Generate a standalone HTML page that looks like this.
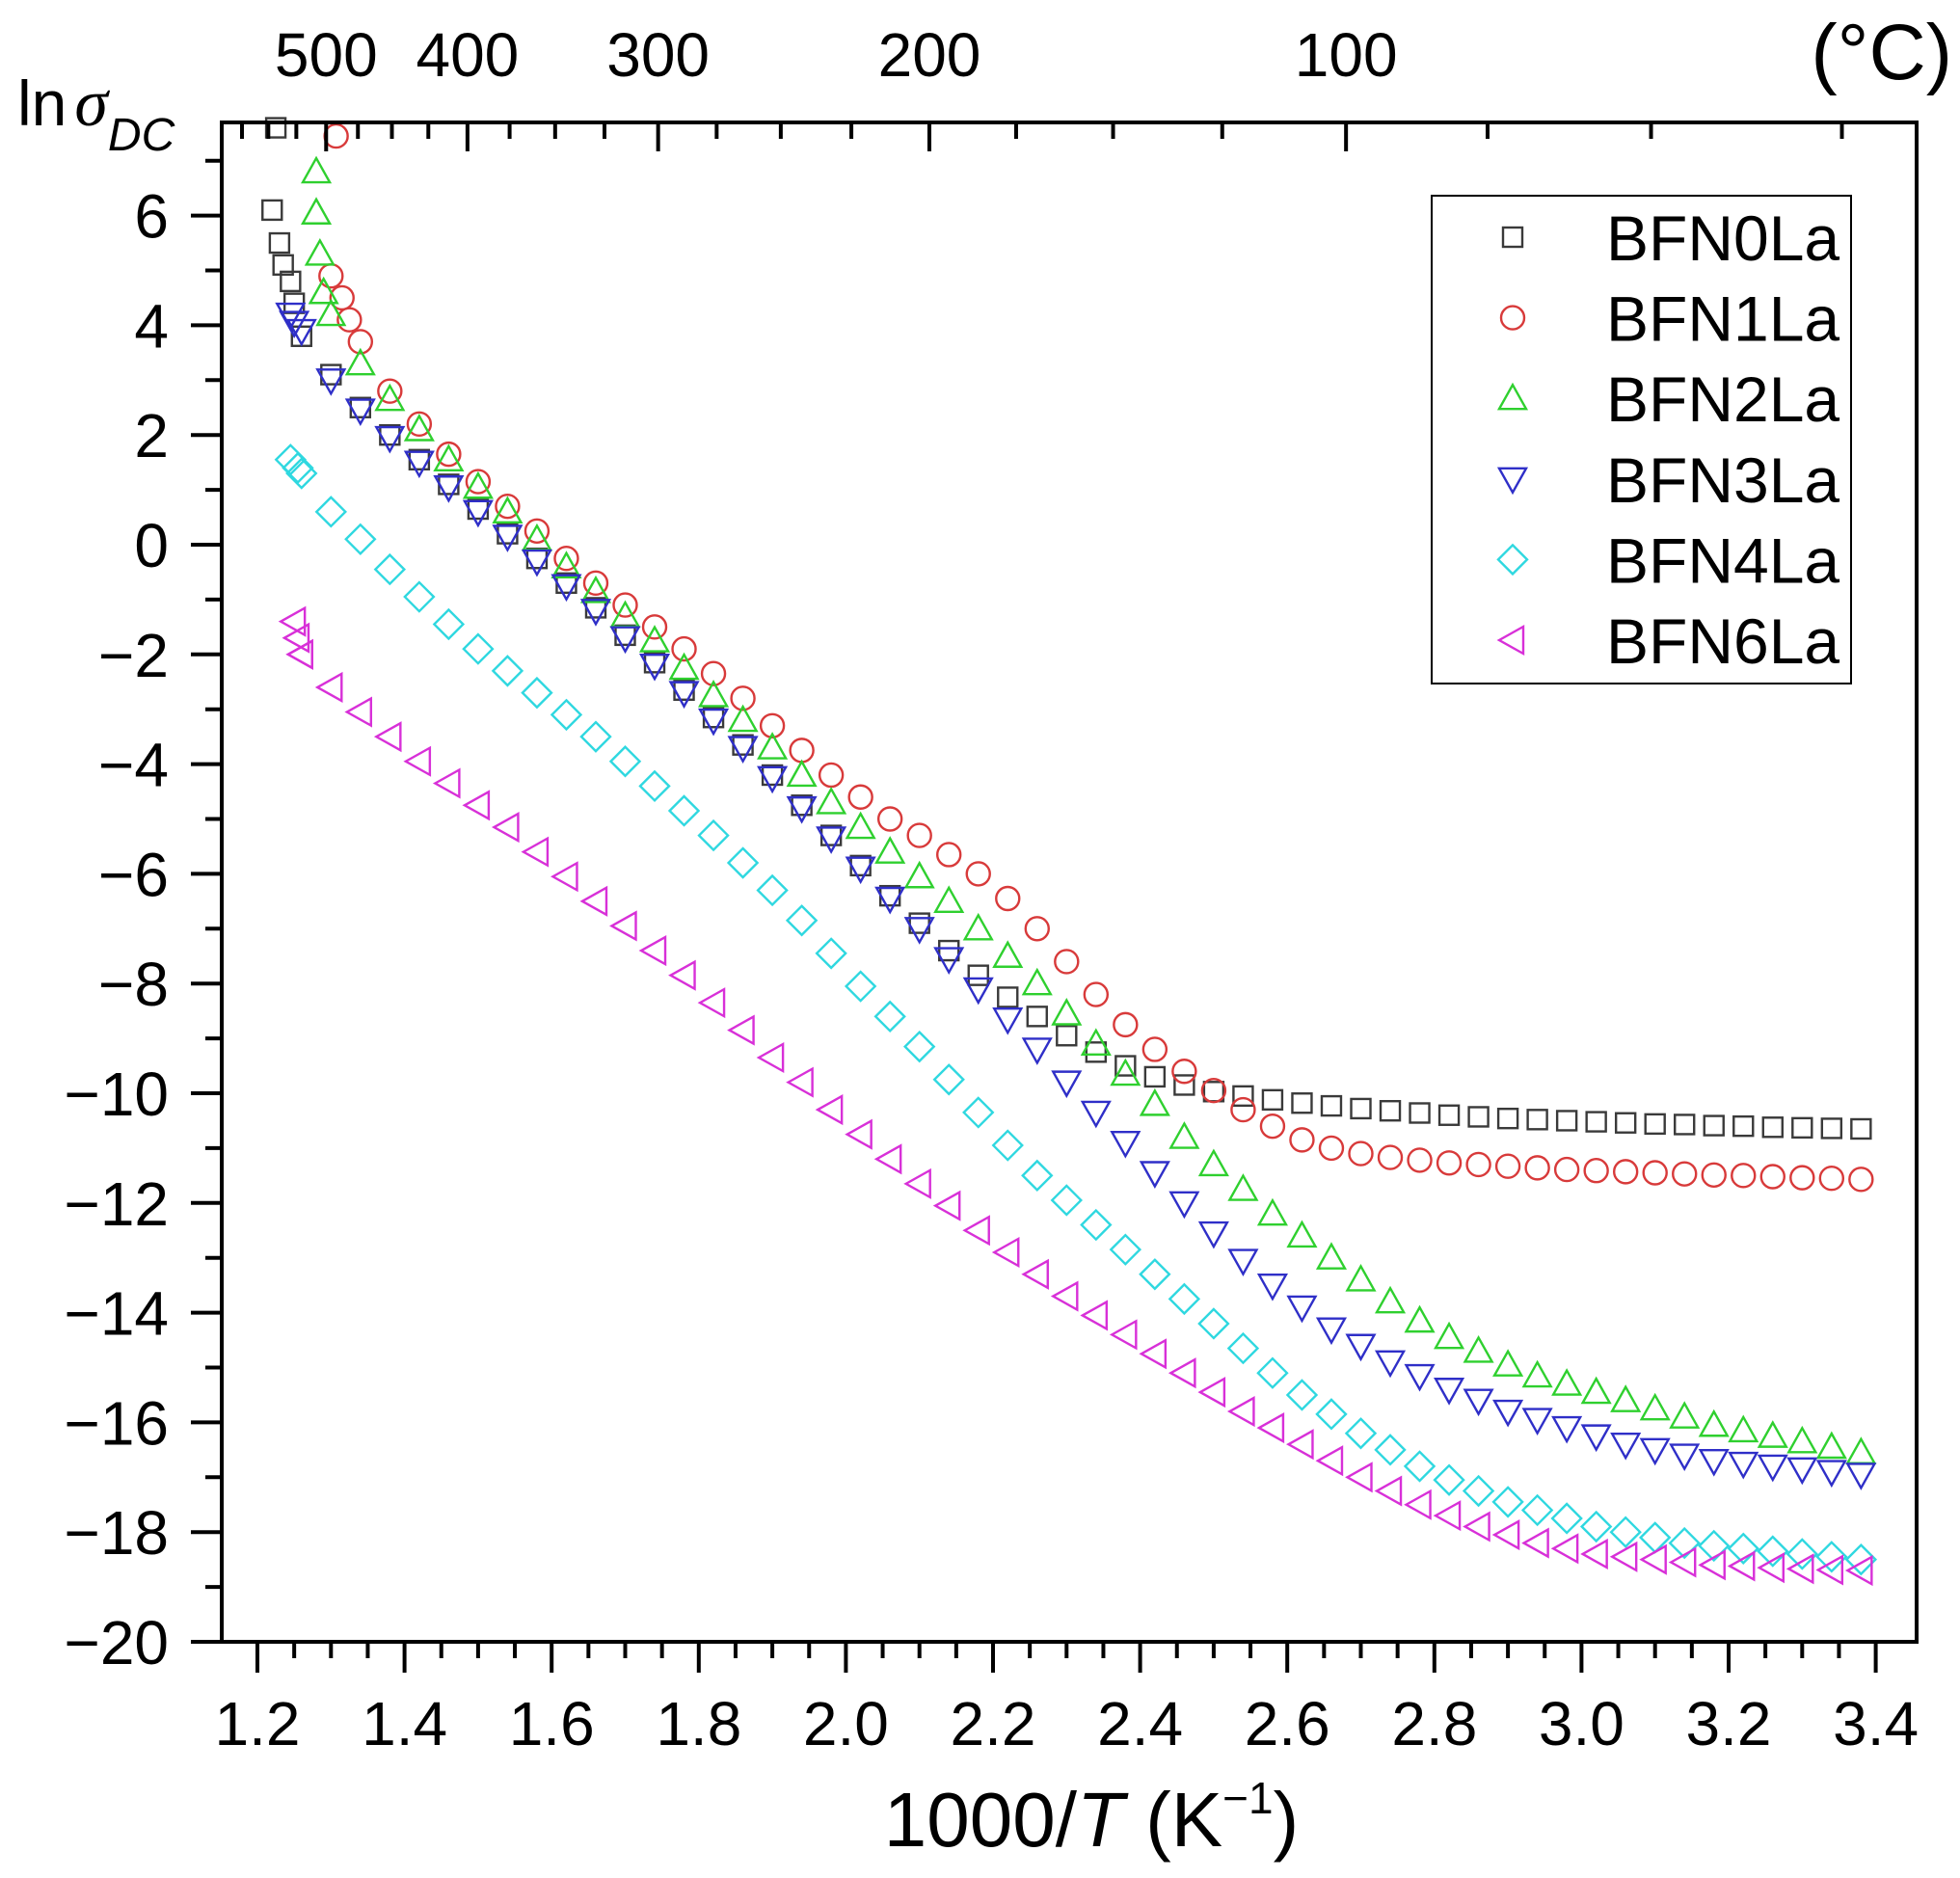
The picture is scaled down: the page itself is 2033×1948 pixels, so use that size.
<!DOCTYPE html>
<html><head><meta charset="utf-8"><style>
html,body{margin:0;padding:0;background:#fff}
svg{display:block}
text{font-family:"Liberation Sans",Arial,sans-serif;fill:#000}
</style></head><body>
<svg id="chart" width="2033" height="1948" viewBox="0 0 2033 1948" xmlns="http://www.w3.org/2000/svg">
<g id="marks"></g>
<g id="axes"></g>
<text x="18" y="130" font-size="66">ln<tspan font-family="Liberation Serif" font-style="italic" font-size="70" dx="8">σ</tspan><tspan font-style="italic" font-size="48" dy="26">DC</tspan></text>
<text x="1132" y="1915" font-size="80" text-anchor="middle">1000/<tspan font-style="italic">T</tspan> (K<tspan font-size="46" dy="-34">−1</tspan><tspan dy="34">)</tspan></text>
<text x="2025" y="82" font-size="82" text-anchor="end">(°C)</text>
<g>
<rect x="1485" y="203" width="435" height="506" fill="#fff" stroke="#000" stroke-width="2"/>
<g id="legend-items"></g>
</g>
</svg>
<script>
const grid=[1.22,1.26,1.30,1.34,1.38,1.42,1.46,1.50,1.54,1.58,1.62,1.66,1.70,1.74,1.78,1.82,1.86,1.90,1.94,1.98,2.02,2.06,2.10,2.14,2.18,2.22,2.26,2.30,2.34,2.38,2.42,2.46,2.50,2.54,2.58,2.62,2.66,2.70,2.74,2.78,2.82,2.86,2.90,2.94,2.98,3.02,3.06,3.10,3.14,3.18,3.22,3.26,3.30,3.34,3.38];
const bfn0Y=[6.1,3.8,3.1,2.5,2.0,1.55,1.10,0.65,0.2,-0.25,-0.7,-1.15,-1.65,-2.15,-2.65,-3.15,-3.65,-4.2,-4.75,-5.3,-5.85,-6.4,-6.9,-7.4,-7.85,-8.25,-8.6,-8.95,-9.25,-9.5,-9.7,-9.85,-9.97,-10.05,-10.12,-10.18,-10.23,-10.28,-10.32,-10.36,-10.4,-10.43,-10.46,-10.48,-10.5,-10.52,-10.54,-10.56,-10.57,-10.59,-10.6,-10.62,-10.63,-10.64,-10.65];
const bfn1Y=[null,null,4.9,3.7,2.8,2.2,1.65,1.15,0.7,0.25,-0.25,-0.7,-1.1,-1.5,-1.9,-2.35,-2.8,-3.3,-3.75,-4.2,-4.6,-5.0,-5.3,-5.65,-6.0,-6.45,-7.0,-7.6,-8.2,-8.75,-9.2,-9.6,-9.95,-10.3,-10.6,-10.85,-11.0,-11.1,-11.17,-11.22,-11.27,-11.3,-11.33,-11.36,-11.39,-11.41,-11.43,-11.45,-11.47,-11.49,-11.5,-11.52,-11.54,-11.55,-11.57];
const bfn2Y=[null,null,4.2,3.3,2.65,2.1,1.55,1.05,0.6,0.1,-0.4,-0.85,-1.3,-1.75,-2.25,-2.75,-3.2,-3.7,-4.2,-4.7,-5.15,-5.6,-6.05,-6.5,-7.0,-7.5,-8.0,-8.55,-9.1,-9.65,-10.2,-10.8,-11.3,-11.75,-12.2,-12.6,-13.0,-13.4,-13.8,-14.15,-14.45,-14.7,-14.95,-15.15,-15.3,-15.45,-15.6,-15.75,-15.9,-16.05,-16.15,-16.25,-16.35,-16.45,-16.55];
const bfn3Y=[null,3.9,3.0,2.45,1.95,1.5,1.05,0.6,0.15,-0.3,-0.75,-1.2,-1.7,-2.2,-2.7,-3.2,-3.7,-4.25,-4.8,-5.35,-5.9,-6.45,-7.0,-7.55,-8.1,-8.65,-9.2,-9.8,-10.35,-10.9,-11.45,-12.0,-12.55,-13.05,-13.5,-13.9,-14.3,-14.6,-14.9,-15.15,-15.4,-15.6,-15.8,-15.95,-16.1,-16.25,-16.4,-16.5,-16.6,-16.7,-16.75,-16.8,-16.85,-16.9,-16.95];
const bfn4Y=[null,1.3,0.6,0.1,-0.45,-0.95,-1.45,-1.9,-2.3,-2.7,-3.1,-3.5,-3.95,-4.4,-4.85,-5.3,-5.8,-6.3,-6.85,-7.45,-8.05,-8.6,-9.15,-9.75,-10.35,-10.95,-11.5,-11.95,-12.4,-12.85,-13.3,-13.75,-14.2,-14.65,-15.1,-15.5,-15.85,-16.2,-16.5,-16.8,-17.05,-17.25,-17.45,-17.6,-17.75,-17.9,-18.0,-18.1,-18.2,-18.25,-18.3,-18.35,-18.4,-18.45,-18.5];
const bfn6Y=[null,-2.0,-2.6,-3.05,-3.5,-3.95,-4.35,-4.75,-5.15,-5.6,-6.05,-6.5,-6.95,-7.4,-7.85,-8.35,-8.85,-9.35,-9.8,-10.3,-10.75,-11.2,-11.65,-12.05,-12.5,-12.9,-13.3,-13.7,-14.05,-14.4,-14.75,-15.1,-15.45,-15.8,-16.1,-16.4,-16.7,-17.0,-17.25,-17.5,-17.7,-17.9,-18.05,-18.2,-18.3,-18.4,-18.45,-18.5,-18.55,-18.6,-18.62,-18.65,-18.67,-18.69,-18.7];
const bfn0HeadX=[1.225,1.23,1.235,1.245,1.25];
const bfn0HeadY=[7.6,5.5,5.1,4.8,4.4];
const bfn1HeadX=[1.307,1.315,1.325];
const bfn1HeadY=[7.45,4.5,4.1];
const bfn2HeadX=[1.28,1.28,1.285,1.29];
const bfn2HeadY=[6.8,6.05,5.3,4.6];
const bfn3HeadX=[1.245,1.25];
const bfn3HeadY=[4.2,4.05];
const bfn4HeadX=[1.245,1.255];
const bfn4HeadY=[1.55,1.4];
const bfn6HeadX=[1.25,1.255,1.26];
const bfn6HeadY=[-1.4,-1.7,-2.0];
const seriesNames=["BFN0La","BFN1La","BFN2La","BFN3La","BFN4La","BFN6La"];
const yTicks=[-20,-18,-16,-14,-12,-10,-8,-6,-4,-2,0,2,4,6];
const xTicks=[1.2,1.4,1.6,1.8,2.0,2.2,2.4,2.6,2.8,3.0,3.2,3.4];
const topTicksC=[500,400,300,200,100];

const L=230,R=1988,T=127,B=1703;
const X=v=>267+(v-1.2)*763;
const Y=v=>565-v*56.9;
const NS="http://www.w3.org/2000/svg";
function mk(tag,attrs,parent){const e=document.createElementNS(NS,tag);for(const k in attrs)e.setAttribute(k,attrs[k]);parent.appendChild(e);return e;}
const colors=["#3a3a3a","#d83a3a","#2fd02f","#2f2fc8","#2fd8e0","#d830d8"];
const shapes=["square","circle","up","down","diamond","left"];
function marker(shape,cx,cy,col,parent){
  const s={fill:"none",stroke:col,"stroke-width":2.4};
  let e;
  if(shape==="square"){e=mk("rect",Object.assign({x:cx-10,y:cy-10,width:20,height:20},s),parent);}
  else if(shape==="circle"){e=mk("circle",Object.assign({cx:cx,cy:cy,r:12},s),parent);}
  else {
    let p;
    if(shape==="up")p=[[cx,cy-14],[cx+14,cy+11],[cx-14,cy+11]];
    else if(shape==="down")p=[[cx,cy+14],[cx+14,cy-11],[cx-14,cy-11]];
    else if(shape==="left")p=[[cx-14,cy],[cx+11,cy-14],[cx+11,cy+14]];
    else p=[[cx,cy-15],[cx+15,cy],[cx,cy+15],[cx-15,cy]];
    e=mk("polygon",Object.assign({points:p.map(q=>q.join(",")).join(" ")},s),parent);
  }
  return e;
}
const marks=document.getElementById("marks");
const ys=[bfn0Y,bfn1Y,bfn2Y,bfn3Y,bfn4Y,bfn6Y];
const hx=[bfn0HeadX,bfn1HeadX,bfn2HeadX,bfn3HeadX,bfn4HeadX,bfn6HeadX];
const hy=[bfn0HeadY,bfn1HeadY,bfn2HeadY,bfn3HeadY,bfn4HeadY,bfn6HeadY];
ys.forEach((arr,si)=>{
  const g=mk("g",{},marks);
  
  
  const pts=[];
  hx[si].forEach((x,i)=>pts.push([x,hy[si][i]]));
  grid.forEach((x,i)=>{if(arr[i]!=null&&arr[i]!==undefined)pts.push([x,arr[i]]);});
  pts.forEach(p=>{
    const cy=Y(p[1]); if(cy<T-2)return;
    const m=marker(shapes[si],X(p[0]),cy,colors[si],g);
    
    
  });
});
const ax=document.getElementById("axes");
mk("rect",{x:L,y:T,width:R-L,height:B-T,fill:"none",stroke:"#000","stroke-width":4},ax);
for(let v=-20;v<=7;v++){
  const y=Y(v),maj=v%2===0;
  mk("line",{x1:L,x2:L-(maj?32:17),y1:y,y2:y,stroke:"#000","stroke-width":4},ax);
}
yTicks.forEach(v=>{
  const t=mk("text",{x:175,y:Y(v)+23,"font-size":64,"text-anchor":"end"},ax);
  t.textContent=(v<0?"−":"")+Math.abs(v);
  
  
});
for(let k=0;k<=45;k++){
  const v=1.15+k*0.05; if(X(v)<L-1||X(v)>R+1)continue;
  const maj=k%4===1;
  mk("line",{x1:X(v),x2:X(v),y1:B,y2:B+(maj?32:17),stroke:"#000","stroke-width":4},ax);
}
xTicks.forEach(v=>{
  const t=mk("text",{x:X(v),y:1810,"font-size":64,"text-anchor":"middle"},ax);
  t.textContent=v.toFixed(1);
  
  
});
for(let c=25;c<=575;c+=25){
  const x=X(1000/(c+273.15)); if(x<L||x>R)continue;
  const maj=c%100===0;
  mk("line",{x1:x,x2:x,y1:T,y2:T+(maj?30:17),stroke:"#000","stroke-width":4},ax);
}
topTicksC.forEach(c=>{
  const t=mk("text",{x:X(1000/(c+273.15)),y:79,"font-size":64,"text-anchor":"middle"},ax);
  t.textContent=c;
  
  
});
const lg=document.getElementById("legend-items");
seriesNames.forEach((n,i)=>{
  const cy=246+i*83.6;
  const m=marker(shapes[i],1569,cy,colors[i],lg);
  
  
  const t=mk("text",{x:1666,y:cy+24,"font-size":66},lg);
  t.textContent=n;
  
  
});
</script>
</body></html>
